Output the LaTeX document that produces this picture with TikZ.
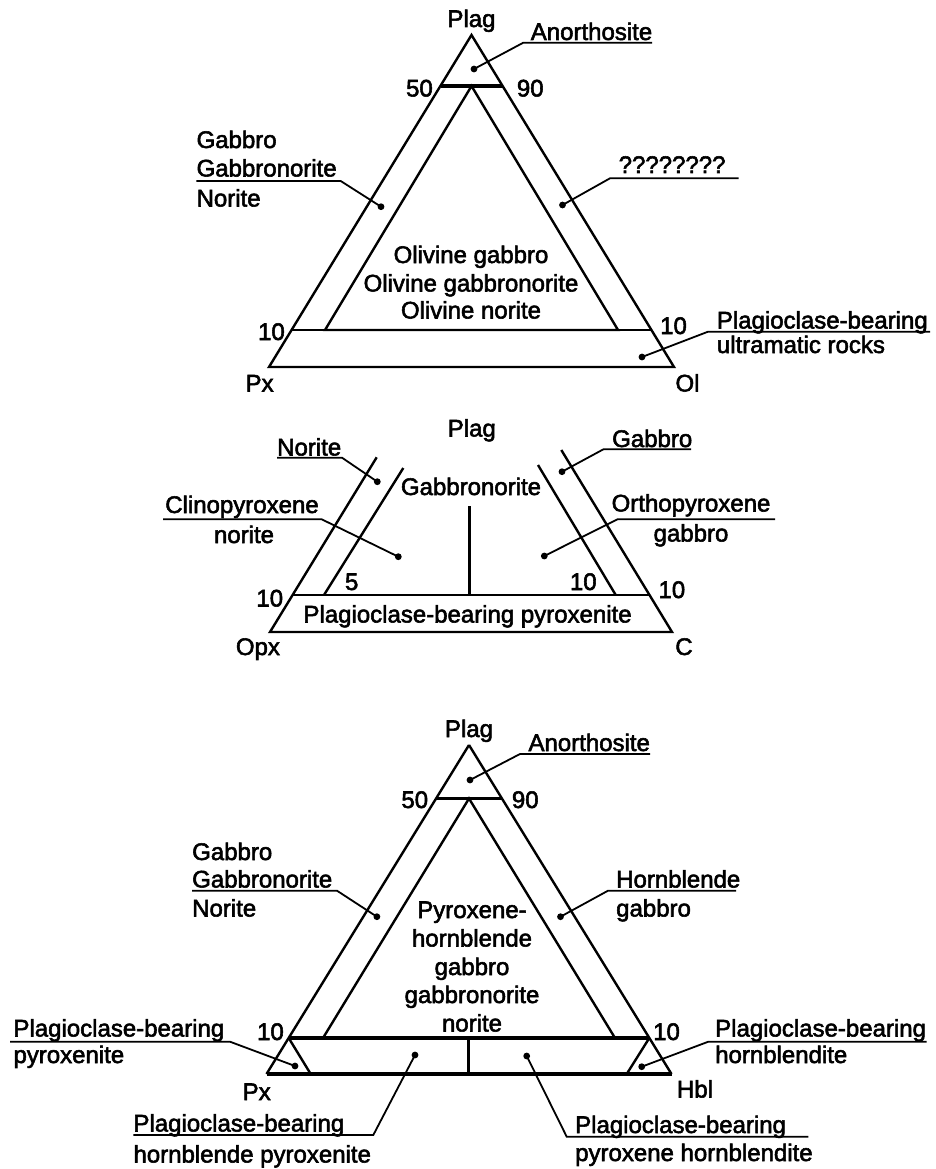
\documentclass[tikz,border=0pt]{standalone}
\usepackage{fontspec}
\setmainfont{Liberation Sans}
% labels are set with a thin outline stroke so they read a little heavier
\newcommand\labelink{\special{pdf:literal direct 2 Tr 0.55 w}}
\begin{document}
\begin{tikzpicture}[x=1pt,y=-1pt,
  edge/.style={line width=2.4pt,line join=miter,line cap=butt},
  heavy/.style={line width=3.4pt},
  leader/.style={line width=1.8pt},
  lbl/.style={inner sep=0pt,font=\fontsize{24}{28}\selectfont\labelink},
  lw/.style={lbl,anchor=base west},
  lc/.style={lbl,anchor=base},
  le/.style={lbl,anchor=base east},
  dotmark/.style={fill=black}]
\fill[white] (0,0) rectangle (935,1169);
\useasboundingbox (0,0) rectangle (935,1169);

% ---------- Plag - Px - Ol ----------
\coordinate (A1) at (471.5,35);
\coordinate (L1) at (269,367);
\coordinate (R1) at (674,367);
\draw[edge] (A1) -- (L1) -- (R1) -- cycle;
\draw[heavy] (440.5,86) -- (502.5,86);
\draw[edge] (471.5,86) -- (325,330) -- (618,330) -- cycle;
\draw[edge] (292,330) -- (651,330);

\node[lc] (t1plag) at (471.5,27) {Plag};
\node[le] (t1fifty) at (433,96.5) {50};
\node[lw] (t1ninety) at (516.7,96.5) {90};
\node[le] (t1tenl) at (285,340) {10};
\node[lw] (t1tenr) at (660,334) {10};
\node[lc] (t1px) at (259.6,391.5) {Px};
\node[lc] (t1ol) at (687.5,391.5) {Ol};

\node[lw] (t1anor) at (530.6,40) {Anorthosite};
\coordinate (d1a) at (474,69);
\coordinate (b1a) at (523.3,42.7);
\coordinate (e1a) at (652,42.7);
\fill[dotmark] (d1a) circle (3.4);
\draw[leader] (d1a) -- (b1a) -- (e1a);

\node[lw] (t1gab) at (196.4,148) {Gabbro};
\node[lw] (t1gabn) at (196.4,176.5) {Gabbronorite};
\node[lw] (t1nor) at (196.4,206.5) {Norite};
\coordinate (s1g) at (196.4,181);
\coordinate (b1g) at (340.7,181);
\coordinate (d1g) at (381,206.7);
\fill[dotmark] (d1g) circle (3.4);
\draw[leader] (s1g) -- (b1g) -- (d1g);

\node[lw] (t1q) at (618.5,173) {????????};
\coordinate (d1q) at (562.5,205);
\coordinate (b1q) at (610,178.3);
\coordinate (e1q) at (738.7,178.3);
\fill[dotmark] (d1q) circle (3.4);
\draw[leader] (d1q) -- (b1q) -- (e1q);

\node[lc] (t1ol1) at (471,263) {Olivine gabbro};
\node[lc] (t1ol2) at (471,291.5) {Olivine gabbronorite};
\node[lc] (t1ol3) at (471,318.5) {Olivine norite};

\node[lw] (t1pb) at (716.7,328.5) {Plagioclase-bearing};
\node[lw] (t1um) at (716.7,353) {ultramatic rocks};
\coordinate (d1u) at (642,357);
\coordinate (b1u) at (708,331.7);
\coordinate (e1u) at (930,331.7);
\fill[dotmark] (d1u) circle (3.4);
\draw[leader] (d1u) -- (b1u) -- (e1u);

% ---------- Plag - Opx - C ----------
\draw[edge] (376.7,457.3) -- (270,632) -- (672,632) -- (561.3,450);
\draw[edge] (292.6,595) -- (649.5,595);
\draw[edge] (324,595) -- (403.3,468);
\draw[edge] (615.7,595) -- (538,465);
\draw[edge] (469.3,506) -- (469.3,595);

\node[lc] (t2plag) at (471.8,436.5) {Plag};
\node[lc] (t2gabn) at (471,495) {Gabbronorite};
\node[lc] (t2five) at (351.7,590) {5};
\node[lc] (t2teni) at (583.3,590) {10};
\node[le] (t2tenl) at (283.3,606.5) {10};
\node[lw] (t2tenr) at (658.3,598) {10};
\node[lw] (t2pbp) at (303.3,622.5) {Plagioclase-bearing pyroxenite};
\node[lc] (t2opx) at (257.9,655) {Opx};
\node[lc] (t2c) at (684,655) {C};

\node[lw] (t2nor) at (277,455.5) {Norite};
\coordinate (s2n) at (277,457.7);
\coordinate (b2n) at (342,457.7);
\coordinate (d2n) at (377.3,481.7);
\fill[dotmark] (d2n) circle (3.4);
\draw[leader] (s2n) -- (b2n) -- (d2n);

\node[lw] (t2gab) at (612,447) {Gabbro};
\coordinate (d2g) at (562,471.7);
\coordinate (b2g) at (603.4,449.3);
\coordinate (e2g) at (691,449.3);
\fill[dotmark] (d2g) circle (3.4);
\draw[leader] (d2g) -- (b2g) -- (e2g);

\node[lc] (t2cpx) at (242,513) {Clinopyroxene};
\node[lc] (t2cpxn) at (244,543) {norite};
\coordinate (s2c) at (163,519.3);
\coordinate (b2c) at (321.7,519.3);
\coordinate (d2c) at (398.3,556.7);
\fill[dotmark] (d2c) circle (3.4);
\draw[leader] (s2c) -- (b2c) -- (d2c);

\node[lc] (t2opxg) at (691,511.5) {Orthopyroxene};
\node[lc] (t2opxgg) at (691,541.5) {gabbro};
\coordinate (d2o) at (544.3,556);
\coordinate (b2o) at (617.4,519.3);
\coordinate (e2o) at (775,519.3);
\fill[dotmark] (d2o) circle (3.4);
\draw[leader] (d2o) -- (b2o) -- (e2o);

% ---------- Plag - Px - Hbl ----------
\coordinate (A3) at (469,745);
\coordinate (L3) at (266.5,1074);
\coordinate (R3) at (671.5,1074);
\draw[edge] (A3) -- (L3);
\draw[edge] (A3) -- (R3);
\draw[heavy] (L3) -- (R3);
\draw[heavy] (436.1,798.5) -- (501.9,798.5);
\draw[edge] (323,1038) -- (469,798.5) -- (615,1038);
\draw[heavy] (288.7,1038) -- (649.3,1038);
\draw[edge] (288.7,1038) -- (310.7,1074);
\draw[edge] (649.3,1038) -- (626.7,1074);
\draw[edge] (468.5,1038) -- (468.5,1074);

\node[lc] (t3plag) at (469,737) {Plag};
\node[le] (t3fifty) at (428.3,808) {50};
\node[lw] (t3ninety) at (511.7,808) {90};
\node[le] (t3tenl) at (284,1040) {10};
\node[lw] (t3tenr) at (653,1040) {10};
\node[lc] (t3px) at (256.7,1100) {Px};
\node[lc] (t3hbl) at (695,1097.5) {Hbl};

\node[lw] (t3anor) at (528.3,751) {Anorthosite};
\coordinate (d3a) at (470,780);
\coordinate (b3a) at (520,754);
\coordinate (e3a) at (650,754);
\fill[dotmark] (d3a) circle (3.4);
\draw[leader] (d3a) -- (b3a) -- (e3a);

\node[lw] (t3gab) at (192,860) {Gabbro};
\node[lw] (t3gabn) at (192,887.5) {Gabbronorite};
\node[lw] (t3nor) at (192,916.5) {Norite};
\coordinate (s3g) at (192,890.7);
\coordinate (b3g) at (337,890.7);
\coordinate (d3g) at (376.9,916.7);
\fill[dotmark] (d3g) circle (3.4);
\draw[leader] (s3g) -- (b3g) -- (d3g);

\node[lw] (t3hb) at (616,887.5) {Hornblende};
\node[lw] (t3hbg) at (616,916.5) {gabbro};
\coordinate (d3h) at (560.5,916.7);
\coordinate (b3h) at (608,890.7);
\coordinate (e3h) at (736,890.7);
\fill[dotmark] (d3h) circle (3.4);
\draw[leader] (d3h) -- (b3h) -- (e3h);

\node[lc] (t3c1) at (472,918) {Pyroxene-};
\node[lc] (t3c2) at (472,946.5) {hornblende};
\node[lc] (t3c3) at (472,975) {gabbro};
\node[lc] (t3c4) at (472,1003) {gabbronorite};
\node[lc] (t3c5) at (472,1031.5) {norite};

\node[lw] (t3pl1) at (13.3,1036.5) {Plagioclase-bearing};
\node[lw] (t3pl2) at (13.3,1063) {pyroxenite};
\coordinate (s3p) at (10,1041.7);
\coordinate (b3p) at (230,1041.7);
\coordinate (d3p) at (295,1066);
\fill[dotmark] (d3p) circle (3.4);
\draw[leader] (s3p) -- (b3p) -- (d3p);

\node[lw] (t3pr1) at (715,1036.5) {Plagioclase-bearing};
\node[lw] (t3pr2) at (715,1063) {hornblendite};
\coordinate (d3r) at (641.7,1066.7);
\coordinate (b3r) at (708.3,1041.7);
\coordinate (e3r) at (926.7,1041.7);
\fill[dotmark] (d3r) circle (3.4);
\draw[leader] (d3r) -- (b3r) -- (e3r);

\node[lw] (t3bl1) at (133.3,1131.5) {Plagioclase-bearing};
\node[lw] (t3bl2) at (133.3,1162.5) {hornblende pyroxenite};
\coordinate (s3b) at (133.3,1135);
\coordinate (b3b) at (373.3,1135);
\coordinate (d3b) at (415,1055);
\fill[dotmark] (d3b) circle (3.4);
\draw[leader] (s3b) -- (b3b) -- (d3b);

\node[lw] (t3br1) at (575,1133) {Plagioclase-bearing};
\node[lw] (t3br2) at (575,1161) {pyroxene hornblendite};
\coordinate (d3q) at (526.7,1056);
\coordinate (b3q) at (566.7,1136.7);
\coordinate (e3q) at (808.3,1136.7);
\fill[dotmark] (d3q) circle (3.4);
\draw[leader] (d3q) -- (b3q) -- (e3q);
\end{tikzpicture}
\end{document}
